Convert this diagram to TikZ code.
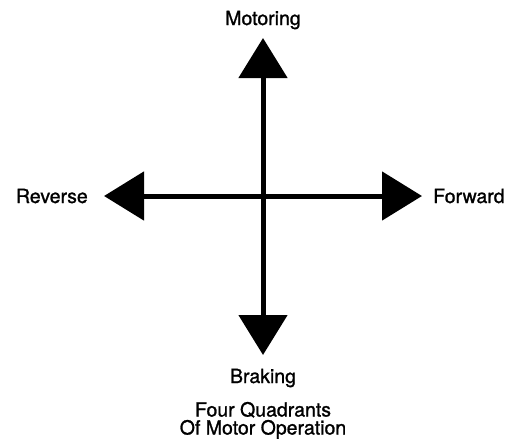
\documentclass[tikz,border=0pt]{standalone}
\usepackage{fontspec}
\setmainfont{TeX Gyre Heros}
\newfontfamily\lblfont{TeX Gyre Heros}[RawFeature={embolden=1.2}]
\usetikzlibrary{arrows.meta}
\begin{document}
\begin{tikzpicture}[x=1pt,y=-1pt,
  axis/.style={line width=5pt,-{Triangle[length=40pt,width=48pt]}},
  lbl/.style={font=\lblfont\fontsize{19.5}{18}\selectfont,inner sep=0pt}]
\useasboundingbox (0,0) rectangle (519,439);
\coordinate (c) at (263,196);
\coordinate (top) at (263,38);
\coordinate (bot) at (263,355);
\coordinate (lft) at (104,196);
\coordinate (rgt) at (422,196);
\draw[axis] (c) -- (top);
\draw[axis] (c) -- (bot);
\draw[axis] (c) -- (lft);
\draw[axis] (c) -- (rgt);
\node[lbl,anchor=base] (mot) at (263,25) {Motoring};
\node[lbl,anchor=base] (brk) at (263,383) {Braking};
\node[lbl,anchor=base west] (fwd) at (433,203) {Forward};
\node[lbl,anchor=base east] (rev) at (88,203) {Reverse};
\node[lbl,anchor=base,align=center] (cap) at (263,434.5) {Four Quadrants\\Of Motor Operation};
\end{tikzpicture}
\end{document}
